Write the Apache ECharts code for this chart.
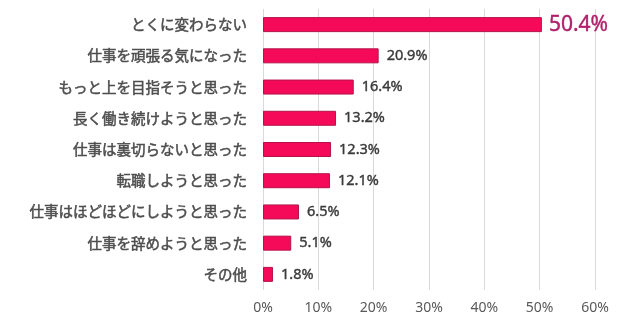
<!DOCTYPE html>
<html>
<head>
<meta charset="utf-8">
<script src="https://cdn.jsdelivr.net/npm/echarts@6/dist/echarts.min.js"></script>
<style>
  html, body { margin: 0; padding: 0; background: #ffffff; }
  #chart { width: 640px; height: 329px; }
</style>
</head>
<body>
<div id="chart"></div>
<script>
// Answers, listed top to bottom
const categories = [
  'とくに変わらない',
  '仕事を頑張る気になった',
  'もっと上を目指そうと思った',
  '長く働き続けようと思った',
  '仕事は裏切らないと思った',
  '転職しようと思った',
  '仕事はほどほどにしようと思った',
  '仕事を辞めようと思った',
  'その他'
];
// Share of respondents (%)
const values = [50.4, 20.9, 16.4, 13.2, 12.3, 12.1, 6.5, 5.1, 1.8];
// Value axis ticks (%)
const tickValues = [0, 10, 20, 30, 40, 50, 60];

const chart = echarts.init(document.getElementById('chart'), null, { renderer: 'canvas' });

const cjk = '"Noto Sans CJK JP", "Noto Sans", sans-serif';
const latin = '"Noto Sans", "Open Sans", sans-serif';

chart.setOption({
  animation: false,
  backgroundColor: '#ffffff',
  grid: { left: 263, right: 45, top: 9, bottom: 39, containLabel: false },
  xAxis: {
    type: 'value',
    min: tickValues[0],
    max: tickValues[tickValues.length - 1],
    interval: tickValues[1] - tickValues[0],
    axisLine: { show: false },
    axisTick: { show: false },
    splitLine: { show: true, lineStyle: { color: '#d9d9d9', width: 1 } },
    axisLabel: {
      formatter: v => v + '%',
      color: '#595959',
      fontSize: 14,
      fontFamily: latin,
      margin: 11
    }
  },
  yAxis: {
    type: 'category',
    inverse: true,
    data: categories,
    axisLine: { show: false },
    axisTick: { show: false },
    axisLabel: {
      color: '#4d4d4d',
      fontSize: 14.5,
      fontFamily: cjk,
      // slightly heavier strokes for a medium weight
      textBorderColor: '#4d4d4d',
      textBorderWidth: 0.5,
      margin: 16
    }
  },
  series: [{
    type: 'bar',
    data: values.map((v, i) => ({
      value: v,
      label: i === 0 ? {
        fontSize: 21,
        color: '#b0206a',
        textBorderColor: '#b0206a',
        textBorderWidth: 0.4,
        distance: 7
      } : undefined
    })),
    barWidth: 15,
    itemStyle: {
      color: '#f50a5a',
      borderColor: '#b3134a',
      borderWidth: 1
    },
    label: {
      show: true,
      position: 'right',
      distance: 8,
      formatter: p => p.value.toFixed(1) + '%',
      color: '#3a3a3a',
      fontSize: 14.5,
      fontFamily: latin,
      textBorderColor: '#3a3a3a',
      textBorderWidth: 0.4
    }
  }]
});
</script>
</body>
</html>
